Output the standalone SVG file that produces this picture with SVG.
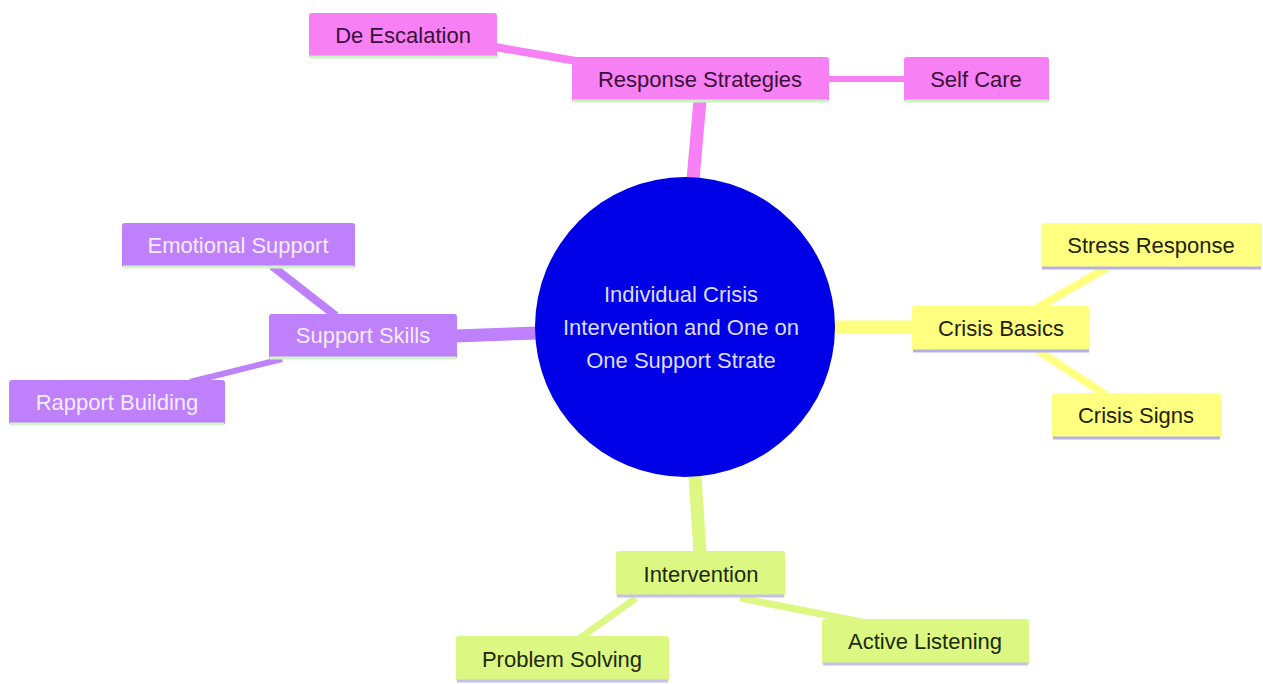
<svg xmlns="http://www.w3.org/2000/svg" width="1263" height="684" viewBox="0 0 1263 684">
<style>
text{font-family:"Liberation Sans",Arial,sans-serif;font-size:22px;text-anchor:middle}
.pk rect.b{fill:#f780f5}.pk line{stroke:#c8f5c0}.pk text{fill:#3a1038}
.pu rect.b{fill:#bf80fc}.pu line{stroke:#d0f5c8}.pu text{fill:#f4ecff}
.ye rect.b{fill:#ffff80}.ye line{stroke:#b4b0e8}.ye text{fill:#222200}
.gr rect.b{fill:#dcf882}.gr line{stroke:#c4c0ea}.gr text{fill:#1c2a08}
line.u{stroke-width:3}
.c{fill:none;stroke-linecap:butt}
</style>
<rect width="1263" height="684" fill="#ffffff"/>
<g id="connectors">
<line class="c" x1="700" y1="100" x2="693" y2="180" stroke="#f780f5" stroke-width="13"/>
<line class="c" x1="495" y1="47" x2="605" y2="66" stroke="#f780f5" stroke-width="8"/>
<line class="c" x1="828" y1="79" x2="905" y2="79" stroke="#f780f5" stroke-width="6"/>
<line class="c" x1="455" y1="336" x2="538" y2="333" stroke="#bf80fc" stroke-width="13"/>
<line class="c" x1="272" y1="266" x2="336" y2="316" stroke="#bf80fc" stroke-width="8"/>
<line class="c" x1="190" y1="382" x2="282" y2="359" stroke="#bf80fc" stroke-width="6"/>
<line class="c" x1="832" y1="327" x2="914" y2="327" stroke="#ffff80" stroke-width="13"/>
<line class="c" x1="1037" y1="308" x2="1108" y2="267" stroke="#ffff80" stroke-width="8"/>
<line class="c" x1="1037" y1="350" x2="1106" y2="395" stroke="#ffff80" stroke-width="8"/>
<line class="c" x1="695" y1="476" x2="700" y2="553" stroke="#dcf882" stroke-width="13"/>
<line class="c" x1="636" y1="598" x2="580" y2="638" stroke="#dcf882" stroke-width="7"/>
<line class="c" x1="740" y1="598" x2="862" y2="622" stroke="#dcf882" stroke-width="7"/>
</g>
<g id="root">
<circle cx="685" cy="327" r="150" fill="#0000e6"/>
<text x="681" y="302" fill="#dcdcff">Individual Crisis</text>
<text x="681" y="335" fill="#dcdcff">Intervention and One on</text>
<text x="681" y="368" fill="#dcdcff">One Support Strate</text>
</g>
<g id="response-strategies" class="pk">
<rect class="b" x="572" y="57" width="257" height="45" rx="3"/>
<line class="u" x1="573" y1="101" x2="828" y2="101"/>
<text x="700" y="87">Response Strategies</text>
</g>
<g id="de-escalation" class="pk">
<rect class="b" x="309" y="13" width="188" height="45" rx="3"/>
<line class="u" x1="310" y1="57" x2="496" y2="57"/>
<text x="403" y="43">De Escalation</text>
</g>
<g id="self-care" class="pk">
<rect class="b" x="904" y="57" width="145" height="45" rx="3"/>
<line class="u" x1="905" y1="101" x2="1048" y2="101"/>
<text x="976" y="87">Self Care</text>
</g>
<g id="support-skills" class="pu">
<rect class="b" x="269" y="314" width="188" height="45" rx="3"/>
<line class="u" x1="270" y1="358" x2="456" y2="358"/>
<text x="363" y="343">Support Skills</text>
</g>
<g id="emotional-support" class="pu">
<rect class="b" x="122" y="223" width="233" height="45" rx="3"/>
<line class="u" x1="123" y1="267" x2="354" y2="267"/>
<text x="238" y="253">Emotional Support</text>
</g>
<g id="rapport-building" class="pu">
<rect class="b" x="9" y="380" width="216" height="45" rx="3"/>
<line class="u" x1="10" y1="424" x2="224" y2="424"/>
<text x="117" y="410">Rapport Building</text>
</g>
<g id="crisis-basics" class="ye">
<rect class="b" x="912" y="306" width="178" height="46" rx="3"/>
<line class="u" x1="913" y1="351" x2="1089" y2="351"/>
<text x="1001" y="336">Crisis Basics</text>
</g>
<g id="stress-response" class="ye">
<rect class="b" x="1041" y="223" width="221" height="46" rx="3"/>
<line class="u" x1="1042" y1="268" x2="1261" y2="268"/>
<text x="1151" y="253">Stress Response</text>
</g>
<g id="crisis-signs" class="ye">
<rect class="b" x="1052" y="393" width="169" height="46" rx="3"/>
<line class="u" x1="1053" y1="438" x2="1220" y2="438"/>
<text x="1136" y="423">Crisis Signs</text>
</g>
<g id="intervention" class="gr">
<rect class="b" x="616" y="551" width="169" height="46" rx="3"/>
<line class="u" x1="617" y1="596" x2="784" y2="596"/>
<text x="701" y="582">Intervention</text>
</g>
<g id="problem-solving" class="gr">
<rect class="b" x="456" y="636" width="213" height="46" rx="3"/>
<line class="u" x1="457" y1="681" x2="668" y2="681"/>
<text x="562" y="667">Problem Solving</text>
</g>
<g id="active-listening" class="gr">
<rect class="b" x="822" y="619" width="207" height="46" rx="3"/>
<line class="u" x1="823" y1="664" x2="1028" y2="664"/>
<text x="925" y="649">Active Listening</text>
</g>
</svg>
